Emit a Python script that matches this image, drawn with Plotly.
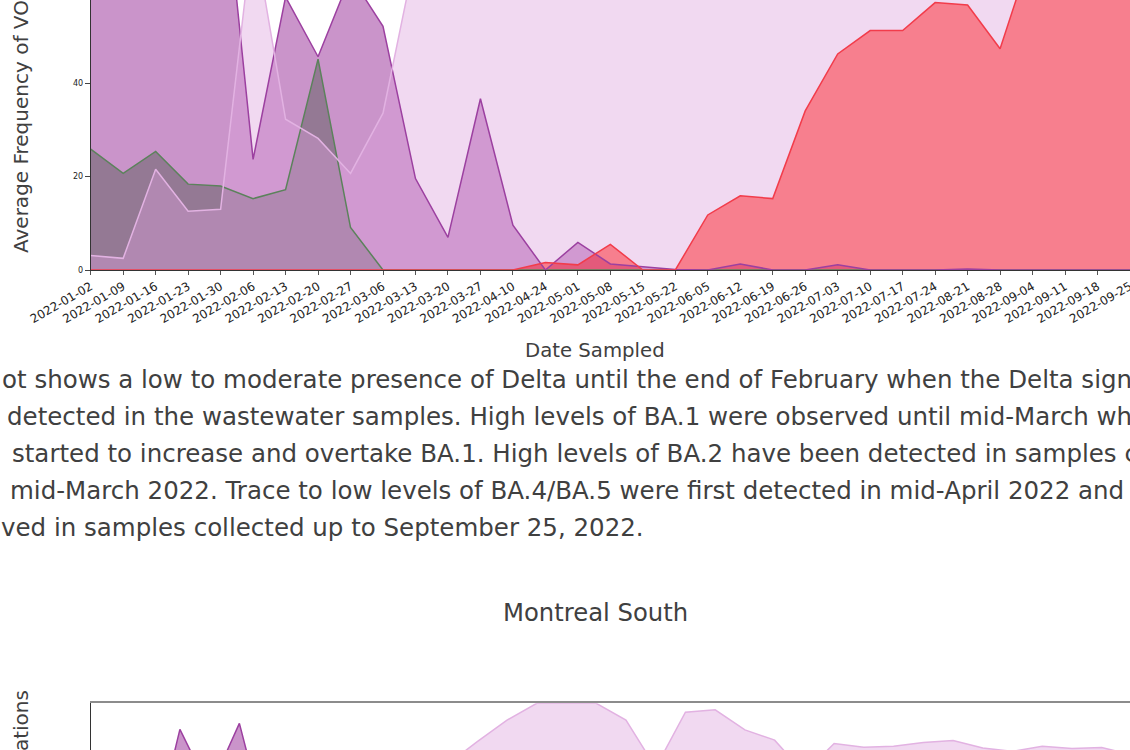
import plotly.graph_objects as go

W, H = 1130, 750

# ---- top chart: weekly wastewater samples ----
dates = ["2022-01-02", "2022-01-09", "2022-01-16", "2022-01-23", "2022-01-30",
         "2022-02-06", "2022-02-13", "2022-02-20", "2022-02-27", "2022-03-06",
         "2022-03-13", "2022-03-20", "2022-03-27", "2022-04-10", "2022-04-24",
         "2022-05-01", "2022-05-08", "2022-05-15", "2022-05-22", "2022-06-05",
         "2022-06-12", "2022-06-19", "2022-06-26", "2022-07-03", "2022-07-10",
         "2022-07-17", "2022-07-24", "2022-08-21", "2022-08-28", "2022-09-04",
         "2022-09-11", "2022-09-18", "2022-09-25"]
delta = [25.9, 20.7, 25.4, 18.4, 18.0, 15.3, 17.2, 45.2, 9.1, 0, 0, 0, 0, 0, 0, 0, 0,
         0, 0, 0, 0, 0, 0, 0, 0, 0, 0, 0, 0, 0, 0, 0, 0]
ba1 = [85, 88, 90, 92, 91.5, 23.7, 58.5, 45.7, 63, 52.2, 19.6, 7.0, 36.7, 9.6, 0, 5.9,
       1.3, 0.7, 0.1, 0, 1.3, 0, 0, 1.1, 0, 0, 0, 0.2, 0, 0, 0, 0, 0]
ba2 = [3.1, 2.5, 21.6, 12.6, 13.0, 73, 32.3, 28.2, 20.7, 33.6, 67.5, 85, 90, 93, 95,
       96, 95, 94, 92, 90, 88, 86, 85, 84, 83, 82, 80, 79, 78, 77, 76, 75, 74]
ba45 = [0, 0, 0, 0, 0, 0, 0, 0, 0, 0, 0, 0, 0, 0, 1.6, 1.1, 5.5, 0, 0, 11.8, 15.9,
        15.3, 34.1, 46.3, 51.3, 51.3, 57.3, 56.8, 47.4, 68.7, 72, 74, 76]

# ---- Montreal South ----
south_dates = ["2022-01-02", "2022-01-09", "2022-01-16", "2022-01-23", "2022-01-30",
               "2022-02-06", "2022-02-13", "2022-02-20", "2022-02-27", "2022-03-06",
               "2022-03-13", "2022-03-20", "2022-03-27", "2022-04-10", "2022-04-17",
               "2022-04-24", "2022-05-01", "2022-05-08", "2022-05-15", "2022-05-22",
               "2022-06-05", "2022-06-12", "2022-06-19", "2022-06-26", "2022-07-03",
               "2022-07-10", "2022-07-17", "2022-07-24", "2022-07-31", "2022-08-14",
               "2022-08-21", "2022-08-28", "2022-09-04", "2022-09-11", "2022-09-18",
               "2022-09-25"]
south_ba1 = [62, 70, 68, 94.4, 81.5, 95.7, 71, 58, 47, 36, 27, 18, 10, 6, 3, 2, 1, 0.5,
             0, 0, 0, 0.4, 0, 0, 0, 0, 0.3, 0, 0, 0, 0, 0, 0, 0, 0, 0]
south_ba2 = [2, 3, 5, 9, 14, 20, 27, 35, 44, 55, 66, 78, 86.9, 91.8, 96.4, 100, 100, 100,
             96.4, 86.2, 98.1, 98.6, 94.3, 92.1, 85.0, 91.4, 90.6, 90.8, 91.6, 92.0, 90.4,
             89.7, 90.8, 90.3, 90.5, 89.0]

paragraph = [
    "ot shows a low to moderate presence of Delta until the end of February when the Delta signal",
    "detected in the wastewater samples. High levels of BA.1 were observed until mid-March when",
    "started to increase and overtake BA.1. High levels of BA.2 have been detected in samples collected",
    "mid-March 2022. Trace to low levels of BA.4/BA.5 were first detected in mid-April 2022 and low",
    "ved in samples collected up to September 25, 2022.",
]
para_x = [0, 5, 10, 8, -1]

FONT = "DejaVu Sans"
TXT = "#404040"


def px(x):
    return x / W


def py(y):
    return 1 - y / H


fig = go.Figure()

# fills first (matplotlib draws all fills below lines), then lines
top_series = [
    (delta, "rgba(0,128,0,0.36)", "#5b825b"),
    (ba1, "rgba(128,0,128,0.42)", "#9c40a0"),
    (ba2, "rgba(221,160,221,0.40)", "#e2b2e2"),
    (ba45, "rgba(255,0,0,0.41)", "#f23c4b"),
]
for vals, fc, lc in top_series:
    fig.add_trace(go.Scatter(x=dates, y=vals, mode="none", fill="tozeroy",
                             fillcolor=fc, xaxis="x", yaxis="y", hoverinfo="skip"))
for vals, fc, lc in top_series:
    fig.add_trace(go.Scatter(x=dates, y=vals, mode="lines", line=dict(color=lc, width=1.5),
                             xaxis="x", yaxis="y", hoverinfo="skip"))

south_series = [
    (south_ba1, "rgba(128,0,128,0.42)", "#9c40a0"),
    (south_ba2, "rgba(221,160,221,0.40)", "#e2b2e2"),
]
for vals, fc, lc in south_series:
    fig.add_trace(go.Scatter(x=south_dates, y=vals, mode="none", fill="tozeroy",
                             fillcolor=fc, xaxis="x2", yaxis="y2", hoverinfo="skip"))
for vals, fc, lc in south_series:
    fig.add_trace(go.Scatter(x=south_dates, y=vals, mode="lines", line=dict(color=lc, width=1.5),
                             xaxis="x2", yaxis="y2", hoverinfo="skip"))

annotations = []
for i, line in enumerate(paragraph):
    annotations.append(dict(x=px(para_x[i]), y=py(379 + 37 * i), xref="paper", yref="paper",
                            text=line, showarrow=False, xanchor="left", yanchor="middle",
                            font=dict(family=FONT, size=24.5, color=TXT)))
annotations += [
    dict(x=px(595), y=py(350), xref="paper", yref="paper", text="Date Sampled",
         showarrow=False, xanchor="center", yanchor="middle",
         font=dict(family=FONT, size=19.7, color=TXT)),
    dict(x=px(21), y=py(255), xref="paper", yref="paper",
         text="Average Frequency of VOC Mutations", textangle=-90, showarrow=False,
         xanchor="center", yanchor="bottom", font=dict(family=FONT, size=20, color=TXT)),
    dict(x=px(595), y=py(612), xref="paper", yref="paper", text="Montreal South",
         showarrow=False, xanchor="center", yanchor="middle",
         font=dict(family=FONT, size=24.3, color=TXT)),
    dict(x=px(21), y=py(688), xref="paper", yref="paper",
         text="Average Frequency of VOC Mutations", textangle=-90, showarrow=False,
         xanchor="center", yanchor="top", font=dict(family=FONT, size=20, color=TXT)),
]

fig.update_layout(
    width=W, height=H, margin=dict(l=0, r=0, t=0, b=0, autoexpand=False),
    paper_bgcolor="white", plot_bgcolor="white", showlegend=False,
    font=dict(family=FONT, color="#222222"),
    xaxis=dict(domain=[px(90.7), 1], range=[0, 32], type="category",
               tickmode="linear", tick0=0, dtick=1, tickangle=-30,
               tickfont=dict(size=12, color="#222222"), ticks="outside", ticklen=4,
               tickcolor="#555555", showline=True, linecolor="#333333", linewidth=1,
               showgrid=False, zeroline=False, anchor="y"),
    yaxis=dict(domain=[py(270), 1], range=[0, 57.86], tickvals=[0, 20, 40],
               tickfont=dict(size=8, color="#222222"), ticks="outside", ticklen=5,
               tickcolor="#444444", showline=True, linecolor="#333333", linewidth=1,
               showgrid=False, zeroline=False, anchor="x"),
    xaxis2=dict(domain=[px(90.7), 1], range=[0, 34.95], type="category", side="top",
                showticklabels=False, ticks="", showline=True, linecolor="#8c8c8c",
                linewidth=1.5, showgrid=False, zeroline=False, anchor="y2"),
    yaxis2=dict(domain=[0, py(703.3)], range=[89.99, 100], showticklabels=False,
                ticks="", showline=True, linecolor="#333333", linewidth=1,
                showgrid=False, zeroline=False, anchor="x2"),
    annotations=annotations,
)

fig.write_html("out.html", post_script="document.body.style.margin='0';",
               config={"displayModeBar": False})
